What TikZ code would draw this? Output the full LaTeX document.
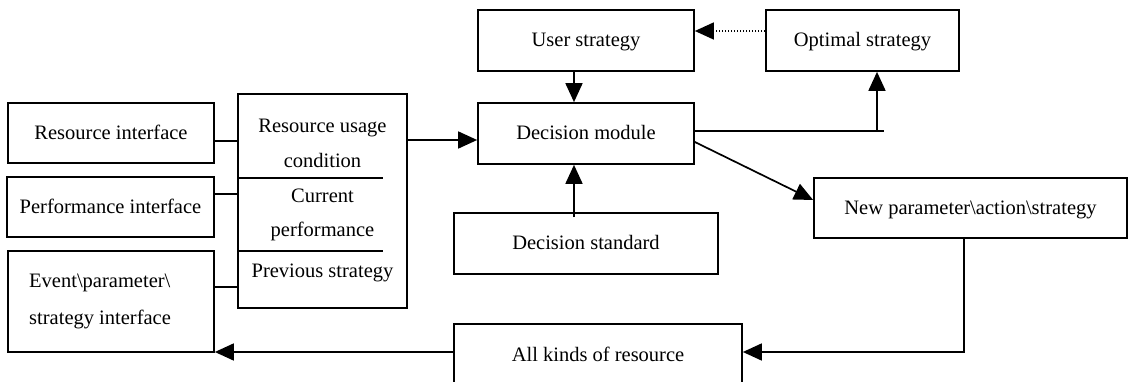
\documentclass[tikz,border=0pt]{standalone}
\usepackage{fontspec}
\setmainfont{Liberation Serif}
\usetikzlibrary{arrows.meta}
\begin{document}
\begin{tikzpicture}[x=1pt,y=-1pt,
  txt/.style={font=\fontsize{20.5}{34}\selectfont},
  box/.style={draw, line width=1.7pt, inner sep=0pt, text height=17pt, text depth=4pt, txt},
  lbl/.style={inner sep=0pt, anchor=base, txt},
  link/.style={line width=1.7pt},
  arr/.style={line width=1.7pt, -{Triangle[length=19pt,width=17pt]}},
  dotarr/.style={arr, line width=1.5pt, dash pattern=on 1.5pt off 1.5pt},
]
\useasboundingbox (0,0) rectangle (1128,382);
\clip (0,0) rectangle (1128,382);

% interfaces on the left
\node[box, minimum width=206pt, minimum height=60pt] (resif) at (111,133) {Resource interface};
\node[box, minimum width=207pt, minimum height=60pt] (perfif) at (110.5,207) {Performance interface};
\node[box, minimum width=206pt, minimum height=101pt] (eventif) at (111,301.5) {};
\node[lbl, anchor=base west] (ev1) at (29,288) {Event\textbackslash parameter\textbackslash};
\node[lbl, anchor=base west] (ev2) at (29,325) {strategy interface};

% collected conditions
\node[box, minimum width=169pt, minimum height=214pt] (cond) at (322.5,201) {};
\coordinate (dv1) at (383,178);
\coordinate (dv2) at (383,251);
\draw[link] (dv1 -| cond.west) -- (dv1);
\draw[link] (dv2 -| cond.west) -- (dv2);
\node[lbl] (c1a) at (322.5,133) {Resource usage};
\node[lbl] (c1b) at (322.5,168) {condition};
\node[lbl] (c2a) at (322.5,203) {Current};
\node[lbl] (c2b) at (322.5,237) {performance};
\node[lbl] (c3) at (322.5,278) {Previous strategy};

% decision part
\node[box, minimum width=216pt, minimum height=61pt] (user) at (586,40.5) {User strategy};
\node[box, minimum width=216pt, minimum height=61pt] (decision) at (586,133.5) {Decision module};
\node[box, minimum width=264pt, minimum height=61pt] (standard) at (586,243.5) {Decision standard};
\node[box, minimum width=193pt, minimum height=61pt] (optimal) at (862.5,40.5) {Optimal strategy};
\node[box, minimum width=313pt, minimum height=60pt] (newparam) at (970.5,208) {New parameter\textbackslash action\textbackslash strategy};
\node[box, minimum width=288pt, minimum height=62pt] (allkinds) at (598,355) {All kinds of resource};

% interfaces to conditions
\coordinate (r1) at ([yshift=-8pt]resif.east);
\coordinate (p1) at ([yshift=13pt]perfif.east);
\coordinate (e1) at ([yshift=14.5pt]eventif.east);
\draw[link] (r1) -- (r1 -| cond.west);
\draw[link] (p1) -- (p1 -| cond.west);
\draw[link] (e1) -- (e1 -| cond.west);

% conditions to decision module
\coordinate (d1) at ([yshift=-6.5pt]decision.west);
\draw[arr] (d1 -| cond.east) -- (d1);

% user strategy and standard to decision module
\draw[arr] ([xshift=-12pt]user.south) -- ([xshift=-12pt]decision.north);
\draw[arr] ([xshift=-12pt,yshift=-5pt]standard.north) -- ([xshift=-12pt]decision.south);

% optimal strategy feeds back to user strategy
\draw[dotarr] ([yshift=9.5pt]optimal.west) -- ([yshift=9.5pt]optimal.west -| user.east);

% decision module to optimal strategy
\coordinate (dj) at ([yshift=2.5pt]decision.east);
\coordinate (oj) at ([xshift=14.5pt]optimal.south);
\coordinate (dend) at ([xshift=7pt]oj |- dj);
\draw[link] (dj) -- (dend);
\draw[arr] (dj -| oj) -- (oj);

% decision module to new parameter
\draw[arr] ([yshift=-8.5pt]decision.east) -- ([yshift=8pt]newparam.west);

% new parameter back to resources, then to the interfaces
\coordinate (n1) at ([xshift=-6.5pt]newparam.south);
\coordinate (a1) at ([yshift=3pt]allkinds.east);
\draw[arr] (n1) |- (a1);
\coordinate (a2) at ([yshift=3pt]allkinds.west);
\draw[arr] (a2) -- (a2 -| eventif.east);
\end{tikzpicture}
\end{document}
